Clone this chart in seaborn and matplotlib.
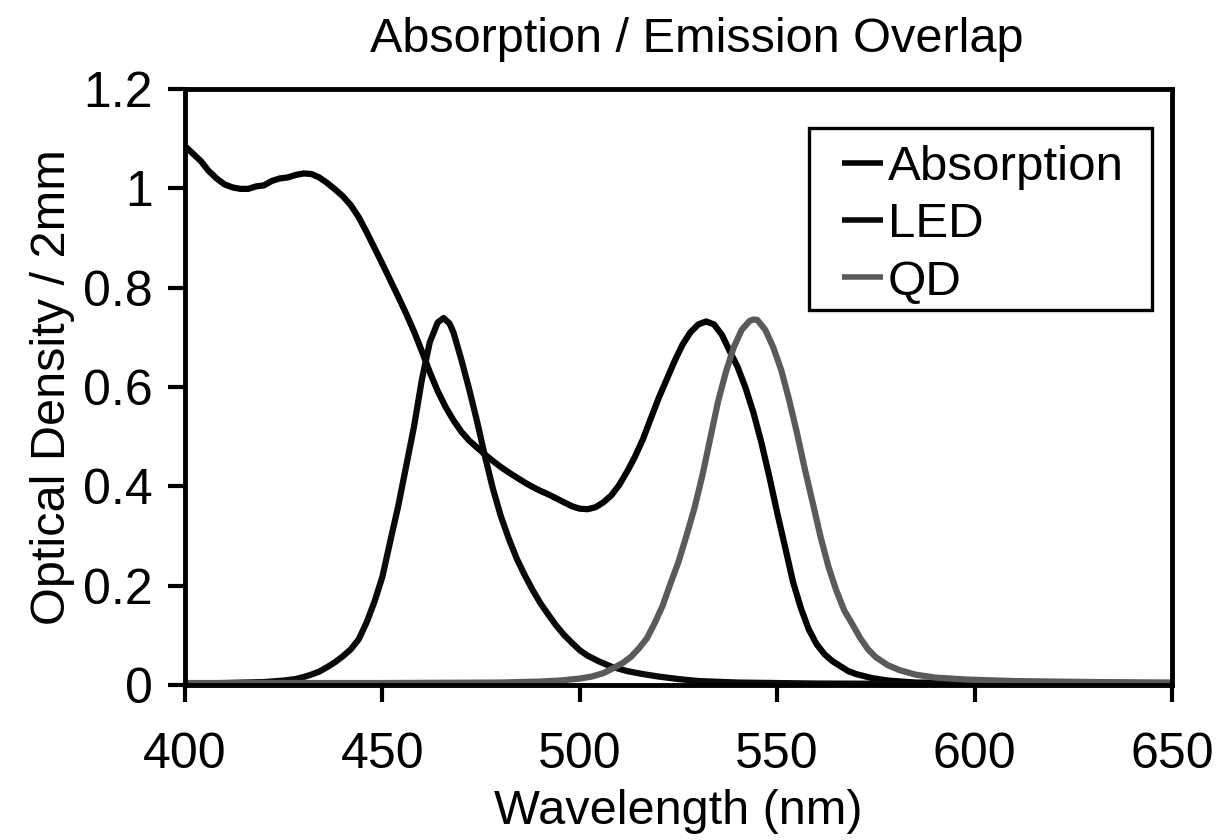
import numpy as np
import pandas as pd
import matplotlib
matplotlib.use("Agg")
import matplotlib.pyplot as plt
from matplotlib.patches import Rectangle
import seaborn as sns

# ---- data ----
abs_nm = [400, 402, 404, 406, 408, 410, 412, 414, 416, 418, 420, 422, 424, 426, 428, 430,
          432, 434, 436, 438, 440, 442, 444, 446, 448, 450, 452, 454, 456, 458, 460, 462,
          464, 466, 468, 470, 472, 474, 476, 478, 480, 482, 484, 486, 488, 490, 492, 494,
          496, 498, 500, 502, 504, 506, 508, 510, 512, 514, 516, 518, 520, 522, 524, 526,
          528, 530, 532, 534, 536, 538, 540, 542, 544, 546, 548, 550, 552, 554, 556, 558,
          560, 562, 564, 566, 568, 570, 574, 578, 585, 600, 625, 650]
abs_od = [1.085, 1.070, 1.055, 1.035, 1.020, 1.008, 1.002, 0.999, 0.999, 1.004, 1.006, 1.015,
          1.020, 1.022, 1.027, 1.030, 1.029, 1.022, 1.011, 0.998, 0.984, 0.966, 0.942, 0.912,
          0.880, 0.848, 0.815, 0.782, 0.748, 0.712, 0.672, 0.630, 0.592, 0.560, 0.533, 0.510,
          0.492, 0.478, 0.464, 0.451, 0.439, 0.428, 0.418, 0.408, 0.399, 0.391, 0.384, 0.376,
          0.368, 0.360, 0.355, 0.354, 0.358, 0.368, 0.382, 0.403, 0.430, 0.460, 0.495, 0.537,
          0.578, 0.615, 0.652, 0.685, 0.710, 0.726, 0.732, 0.726, 0.705, 0.672, 0.640, 0.598,
          0.548, 0.488, 0.420, 0.347, 0.278, 0.208, 0.155, 0.112, 0.082, 0.062, 0.048, 0.038,
          0.028, 0.022, 0.014, 0.009, 0.005, 0.004, 0.003, 0.003]

led_nm = [400, 410, 415, 420, 425, 428, 430, 432, 434, 436, 438, 440, 442, 444, 446, 448,
          450, 452, 454, 456, 458, 460, 462, 464, 465.5, 467, 468, 470, 472, 474, 476, 478,
          480, 482, 484, 486, 488, 490, 492, 494, 496, 498, 500, 502, 505, 508, 512, 516,
          520, 525, 530, 540, 560, 600, 650]
led_od = [0.003, 0.004, 0.005, 0.006, 0.009, 0.012, 0.016, 0.021, 0.027, 0.036, 0.046, 0.058,
          0.072, 0.092, 0.126, 0.168, 0.218, 0.290, 0.360, 0.440, 0.520, 0.615, 0.690, 0.730,
          0.739, 0.728, 0.710, 0.655, 0.595, 0.530, 0.460, 0.395, 0.340, 0.295, 0.255, 0.222,
          0.192, 0.165, 0.142, 0.120, 0.101, 0.085, 0.070, 0.059, 0.047, 0.037, 0.028, 0.022,
          0.017, 0.012, 0.008, 0.005, 0.003, 0.002, 0.002]

qd_nm = [400, 450, 480, 490, 495, 500, 503, 506, 508.5, 511, 513, 515, 517, 519, 521, 523,
         525, 527, 529, 531, 533, 535, 537, 539, 541, 543, 544, 545, 547, 549, 551, 553,
         555, 557, 559, 561, 563, 565, 567, 569, 571, 573, 575, 578, 581, 585, 590, 598,
         610, 630, 650]
qd_od = [0.004, 0.004, 0.005, 0.007, 0.009, 0.013, 0.017, 0.024, 0.034, 0.045, 0.057, 0.074,
         0.094, 0.125, 0.160, 0.205, 0.248, 0.300, 0.355, 0.420, 0.495, 0.570, 0.630, 0.680,
         0.715, 0.733, 0.736, 0.735, 0.715, 0.680, 0.635, 0.575, 0.508, 0.435, 0.367, 0.298,
         0.238, 0.190, 0.150, 0.123, 0.095, 0.072, 0.056, 0.040, 0.030, 0.021, 0.015, 0.011,
         0.008, 0.006, 0.005]

series_names = ["Absorption", "LED", "QD"]
x_ticks = [400, 450, 500, 550, 600, 650]
y_ticks = [0, 0.2, 0.4, 0.6, 0.8, 1.0, 1.2]
y_tick_labels = ["0", "0.2", "0.4", "0.6", "0.8", "1", "1.2"]

df = pd.concat([
    pd.DataFrame({"nm": abs_nm, "od": abs_od, "series": "Absorption"}),
    pd.DataFrame({"nm": led_nm, "od": led_od, "series": "LED"}),
    pd.DataFrame({"nm": qd_nm, "od": qd_od, "series": "QD"}),
], ignore_index=True)

sns.set_theme(style="ticks")
plt.rcParams["font.family"] = ["Liberation Sans", "DejaVu Sans"]
plt.rcParams["text.color"] = "black"
plt.rcParams["axes.labelcolor"] = "black"
plt.rcParams["lines.solid_joinstyle"] = "round"
plt.rcParams["lines.solid_capstyle"] = "round"

fig = plt.figure(figsize=(12.18, 8.40), dpi=100)
ax = fig.add_axes([0.1519, 0.1845, 0.8103, 0.7095])

palette = {"Absorption": "#000000", "LED": "#0a0a0a", "QD": "#5a5a5a"}
sns.lineplot(data=df, x="nm", y="od", hue="series", hue_order=series_names,
             palette=palette, estimator=None, sort=False, linewidth=4.5, ax=ax,
             legend=True)

ax.set_xlim(400, 650)
ax.set_ylim(0, 1.2)
ax.set_xticks(x_ticks)
ax.set_xticklabels([str(t) for t in x_ticks])
ax.set_yticks(y_ticks)
ax.set_yticklabels(y_tick_labels)

for s in ax.spines.values():
    s.set_visible(True)
    s.set_linewidth(3.5)
    s.set_color("black")

ax.tick_params(axis="both", which="major", direction="out", length=12, width=3,
               color="black", labelsize=36, labelcolor="black")
ax.tick_params(axis="x", pad=22)
ax.tick_params(axis="y", pad=11)

ax.set_xlabel("Wavelength (nm)", fontsize=35, color="black", labelpad=8)
ax.set_ylabel("Optical Density / 2mm", fontsize=35, color="black", labelpad=6)
ax.text(0.519, 1.045, "Absorption / Emission Overlap", transform=ax.transAxes,
        ha="center", va="bottom", fontsize=35, color="black")

# legend frame box (drawn separately so its padding can match the reference)
frame = Rectangle((0.632, 0.629), 0.348, 0.306, transform=ax.transAxes,
                  facecolor="white", edgecolor="black", linewidth=2.4, zorder=4)
ax.add_patch(frame)
leg = ax.legend(loc="upper left", bbox_to_anchor=(0.6657, 0.906), borderaxespad=0,
                fontsize=35.5, frameon=False, handlelength=0.83,
                handletextpad=0.1, labelspacing=0.25, borderpad=0,
                labelcolor="black")
leg.set_zorder(5)
for h in leg.get_lines():
    h.set_linewidth(4.0)
    h.set_solid_capstyle("butt")

fig.savefig("out.png", dpi=100, facecolor="white")
